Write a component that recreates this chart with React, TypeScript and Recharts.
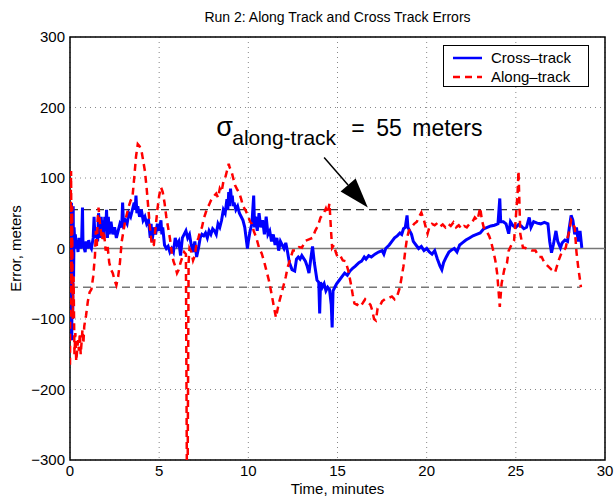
import React from "react";
import {
  ComposedChart,
  Line,
  XAxis,
  YAxis,
  CartesianGrid,
  ReferenceLine,
  ReferenceArea,
  ReferenceDot,
} from "recharts";

const FONT = '"Liberation Sans", Arial, Helvetica, sans-serif';

const xTicks = [0, 5, 10, 15, 20, 25, 30];
const yTicks = [-300, -200, -100, 0, 100, 200, 300];
const sigmaAlong = 55;

// cross-track error, [minutes, meters]
const crossTrack = [
  [0, 0], [0.03, 55], [0.05, -60], [0.08, 65], [0.1, -130], [0.12, 40], [0.15, -100], [0.18, 60],
  [0.2, -40], [0.23, 30], [0.27, 5], [0.3, 20], [0.35, 0], [0.4, 10], [0.45, -5], [0.5, 15],
  [0.55, 5], [0.6, 0], [0.65, 8], [0.7, 58], [0.73, 5], [0.8, 0], [0.85, -5], [0.9, 10],
  [0.95, 5], [1.0, 0], [1.05, 12], [1.1, 5], [1.2, 0], [1.3, 15], [1.35, 45], [1.4, 15],
  [1.5, 25], [1.55, 10], [1.6, 50], [1.65, 35], [1.7, 15], [1.75, 45], [1.8, 20], [1.85, 40],
  [1.9, 15], [1.95, 45], [2.0, 25], [2.05, 55], [2.1, 15], [2.15, 45], [2.2, 20], [2.3, 38],
  [2.4, 20], [2.5, 30], [2.6, 15], [2.7, 25], [2.8, 35], [2.9, 30], [2.95, 65], [3.0, 35],
  [3.1, 40], [3.2, 35], [3.3, 50], [3.4, 45], [3.5, 55], [3.6, 65], [3.65, 55], [3.7, 75],
  [3.75, 50], [3.8, 60], [3.9, 45], [4.0, 55], [4.1, 40], [4.2, 45], [4.3, 35], [4.4, 40],
  [4.5, 15], [4.55, 35], [4.6, 10], [4.7, 30], [4.8, 20], [4.9, 35], [5.0, 25], [5.1, 40],
  [5.15, 20], [5.2, 30], [5.3, 5], [5.4, 0], [5.5, 3], [5.6, -5], [5.7, 0], [5.8, -5],
  [5.9, 15], [6.0, 5], [6.1, 10], [6.2, -10], [6.3, 15], [6.4, 20], [6.5, 25], [6.6, 15],
  [6.7, 20], [6.8, 5], [6.9, -5], [7.0, 10], [7.1, -12], [7.2, 0], [7.3, 15], [7.4, 20],
  [7.5, 18], [7.6, 22], [7.7, 15], [7.8, 25], [7.9, 20], [8.0, 28], [8.1, 25], [8.2, 20],
  [8.3, 35], [8.4, 30], [8.5, 40], [8.6, 55], [8.7, 50], [8.8, 70], [8.85, 55], [8.9, 80],
  [8.95, 60], [9.0, 85], [9.05, 70], [9.1, 75], [9.15, 60], [9.2, 65], [9.3, 55], [9.4, 60],
  [9.5, 50], [9.6, 45], [9.7, 40], [9.8, 30], [9.9, 10], [9.95, 0], [10.0, 10], [10.1, 25],
  [10.2, 35], [10.3, 75], [10.35, 30], [10.4, 45], [10.5, 25], [10.6, 50], [10.7, 30], [10.8, 40],
  [10.9, 20], [11.0, 45], [11.1, 20], [11.2, 25], [11.3, 10], [11.4, 20], [11.5, 5], [11.6, 15],
  [11.7, -3], [11.8, 10], [11.9, 5], [12.0, 0], [12.1, 8], [12.2, -5], [12.3, -20], [12.45, -30],
  [12.6, -32], [12.7, -15], [12.8, -12], [12.9, -15], [13.0, -10], [13.1, -14], [13.2, -18], [13.3, -25],
  [13.4, -35], [13.5, -15], [13.6, 3], [13.7, -20], [13.85, -45], [13.95, -48], [14.0, -92], [14.05, -48],
  [14.15, -55], [14.25, -50], [14.35, -60], [14.45, -55], [14.55, -58], [14.65, -80], [14.7, -112], [14.75, -60],
  [14.85, -55], [14.95, -50], [15.1, -45], [15.25, -40], [15.4, -35], [15.55, -38], [15.7, -32], [15.85, -28],
  [16.0, -25], [16.2, -20], [16.35, -18], [16.5, -12], [16.6, -15], [16.75, -10], [16.9, -12], [17.1, -8],
  [17.3, -5], [17.5, -3], [17.6, -8], [17.7, 0], [17.9, 5], [18.05, 10], [18.2, 15], [18.35, 18],
  [18.5, 22], [18.6, 20], [18.7, 28], [18.8, 30], [18.9, 47], [18.95, 30], [19.05, 25], [19.15, 20],
  [19.25, 10], [19.4, 5], [19.55, 0], [19.7, 3], [19.85, -3], [20.0, 0], [20.15, -5], [20.3, -8],
  [20.45, -3], [20.6, -15], [20.75, -25], [20.85, -30], [20.95, -20], [21.1, -12], [21.25, -5], [21.4, -2],
  [21.55, 0], [21.7, -5], [21.85, 5], [22.0, 8], [22.2, 12], [22.4, 15], [22.6, 18], [22.8, 20],
  [23.0, 22], [23.2, 28], [23.4, 30], [23.6, 32], [23.8, 33], [24.0, 35], [24.1, 71], [24.15, 38],
  [24.3, 38], [24.45, 35], [24.6, 21], [24.7, 38], [24.85, 32], [25.0, 30], [25.15, 34], [25.3, 32],
  [25.45, 28], [25.6, 30], [25.75, 44], [25.85, 30], [26.0, 38], [26.2, 36], [26.4, 35], [26.6, 37],
  [26.8, 35], [26.9, 10], [27.0, -6], [27.1, 5], [27.25, 25], [27.35, 10], [27.5, 1], [27.6, 8],
  [27.75, 12], [27.9, 10], [28.0, 30], [28.1, 47], [28.2, 40], [28.3, 20], [28.4, 30], [28.5, 10],
  [28.6, 25], [28.7, 1],
].map(([t, v]) => ({ t, v }));

// along-track error, [minutes, meters]
const alongTrack = [
  [0, -165], [0.03, 40], [0.06, 110], [0.09, -60], [0.12, 60], [0.15, -100], [0.2, -40], [0.25, -150],
  [0.3, -120], [0.35, -160], [0.45, -130], [0.5, -145], [0.55, -120], [0.6, -150], [0.7, -115], [0.75, -135],
  [0.8, -110], [0.9, -95], [1.0, -75], [1.1, -62], [1.2, -58], [1.3, -40], [1.4, -10], [1.45, 25],
  [1.5, 0], [1.55, 40], [1.6, 58], [1.7, 30], [1.8, 12], [1.9, 25], [2.0, -3], [2.1, 5],
  [2.2, -20], [2.3, -30], [2.4, -35], [2.5, -45], [2.6, -52], [2.7, -40], [2.8, -20], [2.9, 10],
  [3.0, 25], [3.1, 40], [3.2, 50], [3.3, 60], [3.4, 68], [3.5, 72], [3.6, 100], [3.7, 130],
  [3.8, 148], [3.9, 145], [4.0, 140], [4.1, 125], [4.2, 110], [4.3, 85], [4.4, 55], [4.5, 25],
  [4.6, 3], [4.7, 5], [4.8, 30], [4.9, 55], [5.0, 75], [5.1, 87], [5.2, 80], [5.3, 65],
  [5.4, 45], [5.5, 30], [5.6, 15], [5.7, -5], [5.8, -18], [5.9, -25], [6.0, -35], [6.1, -30],
  [6.2, -20], [6.3, -12], [6.4, -5], [6.5, -8], [6.55, -300], [6.6, -300], [6.65, -20], [6.7, 0],
  [6.8, -5], [6.9, -17], [7.0, -10], [7.1, 8], [7.2, 15], [7.3, 25], [7.4, 30], [7.5, 42],
  [7.6, 50], [7.7, 58], [7.8, 62], [7.9, 68], [8.0, 72], [8.1, 75], [8.2, 78], [8.3, 72],
  [8.4, 85], [8.5, 80], [8.6, 95], [8.7, 100], [8.8, 110], [8.9, 120], [8.95, 115], [9.05, 110],
  [9.15, 100], [9.25, 90], [9.35, 85], [9.5, 78], [9.6, 70], [9.7, 60], [9.85, 54], [10.0, 45],
  [10.1, 38], [10.2, 35], [10.3, 25], [10.45, 15], [10.6, 1], [10.75, -7], [10.9, -20], [11.0, -30],
  [11.15, -45], [11.3, -64], [11.45, -85], [11.55, -98], [11.65, -85], [11.75, -74], [11.9, -60], [12.0, -50],
  [12.1, -40], [12.2, -27], [12.35, -15], [12.5, -3], [12.7, -3], [12.85, 2], [13.0, 1], [13.2, 11],
  [13.4, 13], [13.6, 15], [13.75, 25], [13.9, 32], [14.05, 44], [14.2, 48], [14.35, 57], [14.45, 50],
  [14.55, 64], [14.65, 20], [14.7, 1], [14.8, 5], [14.9, -5], [15.0, -12], [15.15, -10], [15.3, -17],
  [15.45, -18], [15.6, -31], [15.75, -50], [15.85, -65], [15.95, -78], [16.1, -80], [16.25, -75], [16.4, -78],
  [16.55, -72], [16.7, -76], [16.85, -80], [16.95, -88], [17.05, -100], [17.15, -102], [17.25, -85], [17.35, -83],
  [17.5, -75], [17.7, -71], [17.9, -70], [18.05, -68], [18.2, -72], [18.35, -67], [18.5, -55], [18.6, -40],
  [18.7, -25], [18.8, -3], [18.9, 15], [19.0, 25], [19.15, 30], [19.3, 35], [19.45, 38], [19.55, 44],
  [19.7, 51], [19.85, 40], [19.95, 30], [20.05, 21], [20.15, 30], [20.3, 35], [20.45, 33], [20.6, 36],
  [20.75, 31], [20.9, 34], [21.05, 30], [21.2, 35], [21.35, 32], [21.5, 37], [21.65, 30], [21.8, 33],
  [21.95, 28], [22.1, 32], [22.25, 30], [22.4, 35], [22.55, 37], [22.7, 44], [22.85, 40], [23.0, 58],
  [23.1, 40], [23.2, 30], [23.35, 25], [23.5, 18], [23.6, 11], [23.75, -5], [23.85, -17], [23.95, -35],
  [24.0, -50], [24.1, -83], [24.2, -50], [24.35, -30], [24.5, -21], [24.6, -3], [24.75, 5], [24.9, 11],
  [25.0, 44], [25.1, 80], [25.15, 110], [25.25, 21], [25.4, 1], [25.5, 1], [25.7, -1], [25.9, -3],
  [26.1, -3], [26.3, -12], [26.45, -12], [26.6, -20], [26.8, -25], [27.0, -30], [27.2, -34], [27.4, -17],
  [27.55, -7], [27.7, -2], [27.8, 1], [27.9, 15], [28.0, 25], [28.1, 40], [28.2, 35], [28.3, 30],
  [28.4, -5], [28.5, -27], [28.6, -45], [28.65, -55],
].map(([t, v]) => ({ t, v }));

const fmt = (v: number) => (v < 0 ? "\u2212" + Math.abs(v) : String(v));

const Annotation = (props: any) => {
  const { cx, cy } = props;
  return (
    <g fontFamily={FONT} fill="#000">
      <text x={cx} y={cy} fontSize={27}>σ</text>
      <text x={cx + 16} y={cy + 9} fontSize={21}>along-track</text>
      <text x={cx + 135} y={cy} fontSize={23}>=</text>
      <text x={cx + 160} y={cy} fontSize={23}>55</text>
      <text x={cx + 196} y={cy} fontSize={23}>meters</text>
    </g>
  );
};

const Arrow = (props: any) => {
  const { x1, y1, x2, y2 } = props;
  const ang = Math.atan2(y2 - y1, x2 - x1);
  const len = 30;
  const half = 10;
  const bx = x2 - len * Math.cos(ang);
  const by = y2 - len * Math.sin(ang);
  const px = -Math.sin(ang) * half;
  const py = Math.cos(ang) * half;
  return (
    <g>
      <line x1={x1} y1={y1} x2={bx} y2={by} stroke="#000" strokeWidth={1.5} />
      <polygon points={`${x2},${y2} ${bx + px},${by + py} ${bx - px},${by - py}`} fill="#000" />
    </g>
  );
};

const YLabel = (props: any) => {
  const { viewBox } = props;
  const cy = viewBox.y + viewBox.height / 2;
  return (
    <text x={17} y={cy} transform={`rotate(-90, 17, ${cy})`} textAnchor="middle" dominantBaseline="middle" fontSize={15} fontFamily={FONT} fill="#000">
      Error, meters
    </text>
  );
};

export default function App() {
  return (
    <div style={{ position: "absolute", left: 0, top: 0, width: 615, height: 500, background: "#fff", fontFamily: FONT }}>
      <div style={{ position: "absolute", left: 0, width: 675, top: 9, textAlign: "center", fontSize: 14 }}>
        Run 2: Along Track and Cross Track Errors
      </div>
      <ComposedChart width={615} height={500} margin={{ top: 37, right: 10, bottom: 0, left: 0 }}>
        <CartesianGrid stroke="#888" strokeDasharray="1 4" />
        <XAxis
          type="number"
          dataKey="t"
          domain={[0, 30]}
          ticks={xTicks}
          allowDataOverflow
          height={40}
          tickLine={false}
          tickSize={0}
          tickMargin={5}
          axisLine={false}
          tick={{ fontSize: 15, fill: "#000", fontFamily: FONT }}
          label={{ value: "Time, minutes", position: "insideBottom", offset: 6, fontSize: 15, fill: "#000", fontFamily: FONT }}
        />
        <YAxis
          type="number"
          domain={[-300, 300]}
          ticks={yTicks}
          allowDataOverflow
          width={70}
          tickLine={false}
          tickSize={0}
          tickMargin={5}
          axisLine={false}
          tickFormatter={fmt}
          tick={{ fontSize: 15, fill: "#000", fontFamily: FONT }}
          label={<YLabel />}
        />
        <ReferenceLine y={0} stroke="#777" strokeWidth={1.5} />
        <ReferenceLine
          segment={[{ x: 0, y: sigmaAlong }, { x: 28.6, y: sigmaAlong }]}
          stroke="#000"
          strokeDasharray="8 5"
        />
        <ReferenceLine
          segment={[{ x: 0, y: -sigmaAlong }, { x: 28.6, y: -sigmaAlong }]}
          stroke="#777"
          strokeWidth={1.5}
          strokeDasharray="8 5"
        />
        <Line
          data={crossTrack}
          dataKey="v"
          type="linear"
          stroke="#0000ff"
          strokeWidth={3}
          dot={false}
          isAnimationActive={false}
        />
        <Line
          data={alongTrack}
          dataKey="v"
          type="linear"
          stroke="#ff0000"
          strokeWidth={2.5}
          strokeDasharray="7 5"
          dot={false}
          isAnimationActive={false}
        />
        <ReferenceLine
          segment={[{ x: 14.25, y: 129 }, { x: 16.7, y: 58 }]}
          shape={<Arrow />}
        />
        <ReferenceDot x={8.2} y={160} r={0} shape={<Annotation />} />
        <ReferenceArea x1={0} x2={30} y1={-300} y2={300} fill="none" stroke="#000" strokeWidth={1.5} fillOpacity={0} />
      </ComposedChart>
      <div
        style={{
          position: "absolute",
          left: 443,
          top: 45,
          width: 146,
          height: 42,
          border: "1px solid #000",
          background: "#fff",
          fontSize: 15,
          boxSizing: "border-box",
        }}
      >
        <svg width={146} height={42} style={{ position: "absolute", left: 0, top: 0 }}>
          <line x1={9} y1={12} x2={38} y2={12} stroke="#0000ff" strokeWidth={2.5} />
          <line x1={9} y1={31} x2={38} y2={31} stroke="#ff0000" strokeWidth={2.5} strokeDasharray="7 5" />
          <text x={47} y={17} fontSize={15} fontFamily={FONT}>Cross–track</text>
          <text x={47} y={36} fontSize={15} fontFamily={FONT}>Along–track</text>
        </svg>
      </div>
    </div>
  );
}
